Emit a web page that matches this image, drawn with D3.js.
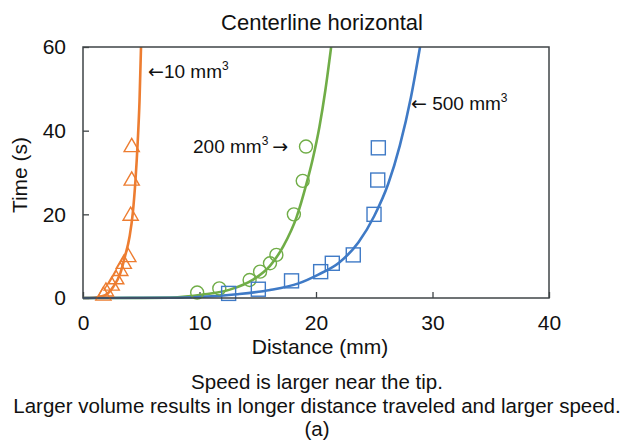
<!DOCTYPE html>
<html>
<head>
<meta charset="utf-8">
<script src="https://cdn.jsdelivr.net/npm/d3@7"></script>
<style>
  body { margin: 0; background: #fff; }
  text { font-family: "Liberation Sans", Arial, sans-serif; fill: #111; }
</style>
</head>
<body>
<div id="chart"></div>
<script>
// ##### data #####
var xTicks = [0, 10, 20, 30, 40];
var yTicks = [0, 20, 40, 60];

// measured points
var orangeX = [1.75, 1.97, 2.46, 2.85, 3.2, 3.5, 3.89, 4.09, 4.18, 4.18];
var orangeY = [0.3, 1.3, 2.7, 4.2, 6.2, 7.9, 9.5, 19.4, 27.8, 35.8];
var greenX = [9.8, 11.7, 14.3, 15.2, 16.05, 16.6, 18.1, 18.86, 19.14];
var greenY = [1.3, 2.3, 4.3, 6.3, 8.3, 10.3, 20.0, 28.0, 36.2];
var blueX = [12.5, 15.05, 17.9, 20.4, 21.4, 23.2, 24.98, 25.3, 25.35];
var blueY = [1.1, 2.1, 4.1, 6.3, 8.3, 10.3, 20.0, 28.2, 35.9];

// fitted trend lines
var orangeFitX = [0, 0.9, 1.9, 2.6, 3.2, 3.6, 4.0, 4.27, 4.5, 4.7, 4.85, 4.98];
var orangeFitY = [0, 0.07, 0.7, 2.7, 5.9, 9.9, 14.7, 20.2, 28.0, 37.5, 47, 60];
var greenFitX = [0, 4, 7.5, 10.3, 12.6, 14.6, 16.05, 17.2, 18.34, 19.2, 19.7, 20.3, 20.8, 21.3];
var greenFitY = [0, 0.02, 0.1, 0.8, 2.0, 4.4, 7.7, 12.4, 19.4, 27.5, 33.0, 41.0, 49.6, 60];
var blueFitX = [0, 7.5, 10.3, 13.2, 16.05, 18.5, 20.2, 22.0, 23.65, 25.0, 26.2, 27.2, 28.15, 28.93];
var blueFitY = [0, 0.05, 0.3, 0.9, 1.9, 3.5, 5.6, 8.5, 13.3, 19.6, 27.3, 36.5, 48, 60];

var orange = "#ED7D31", green = "#70AD47", blue = "#3F7AC6";

function zip(xs, ys) { return xs.map(function(v, i) { return {x: v, y: ys[i]}; }); }

var series = [
	{name: "10",  color: orange, shape: "tri",  pts: zip(orangeX, orangeY), fit: zip(orangeFitX, orangeFitY)},
	{name: "200", color: green,  shape: "circ", pts: zip(greenX, greenY),   fit: zip(greenFitX, greenFitY)},
	{name: "500", color: blue,   shape: "sq",   pts: zip(blueX, blueY),     fit: zip(blueFitX, blueFitY)}
];

// ##### layout #####
var W = 630, H = 441;
var margin = {top: 47, right: 81, bottom: 143, left: 83};
var width = W - margin.left - margin.right;
var height = H - margin.top - margin.bottom;

var svg = d3.select("#chart").append("svg")
	.attr("width", W)
	.attr("height", H);

var g = svg.append("g").attr("transform", "translate(" + margin.left + "," + margin.top + ")");

var x = d3.scaleLinear().domain([0, 40]).range([0, width]);
var y = d3.scaleLinear().domain([0, 60]).range([height, 0]);

g.append("clipPath").attr("id", "clip")
	.append("rect").attr("width", width).attr("height", height + 10).attr("y", 0);

// inward ticks
var xAxis = g.append("g")
	.attr("transform", "translate(0," + height + ")")
	.call(d3.axisBottom(x).tickValues(xTicks).tickSize(-6).tickPadding(13).tickFormat(d3.format("d")));
var yAxis = g.append("g")
	.call(d3.axisLeft(y).tickValues(yTicks).tickSize(-6).tickPadding(17).tickFormat(d3.format("d")));

[xAxis, yAxis].forEach(function(a) {
	a.select(".domain").remove();
	a.selectAll("line").attr("stroke", "#3f4447").attr("stroke-width", 1.3);
	a.selectAll("text").style("font-size", "21px").attr("fill", "#111");
});
xAxis.selectAll("text").attr("dy", "0.9em");

// lines
var line = d3.line()
	.curve(d3.curveMonotoneX)
	.x(function(d) { return x(d.x); })
	.y(function(d) { return y(d.y); });

var lines = g.append("g").attr("clip-path", "url(#clip)");
series.forEach(function(s) {
	lines.append("path")
		.datum(s.fit)
		.attr("fill", "none")
		.attr("stroke", s.color)
		.attr("stroke-width", 2.6)
		.attr("d", line);
});

// markers
series.forEach(function(s) {
	var m = g.append("g").selectAll(".m").data(s.pts).enter();
	if (s.shape === "tri") {
		m.append("path")
			.attr("d", d3.symbol().type(d3.symbolTriangle).size(100))
			.attr("transform", function(d) { return "translate(" + x(d.x) + "," + (y(d.y) - 1) + ")"; })
			.attr("fill", "none").attr("stroke", s.color).attr("stroke-width", 1.4);
	} else if (s.shape === "circ") {
		m.append("circle")
			.attr("cx", function(d) { return x(d.x); })
			.attr("cy", function(d) { return y(d.y); })
			.attr("r", 6.5)
			.attr("fill", "none").attr("stroke", s.color).attr("stroke-width", 1.4);
	} else {
		m.append("rect")
			.attr("x", function(d) { return x(d.x) - 7; })
			.attr("y", function(d) { return y(d.y) - 7; })
			.attr("width", 14).attr("height", 14)
			.attr("fill", "none").attr("stroke", s.color).attr("stroke-width", 1.4);
	}
});

// plot frame
g.append("rect")
	.attr("width", width).attr("height", height)
	.attr("fill", "none")
	.attr("stroke", "#3f4447")
	.attr("stroke-width", 1.5);

// annotations: arrows drawn with DejaVu glyphs, which are larger
function arrow(t, ch) {
	t.append("tspan").style("font-family", "'DejaVu Sans', sans-serif").style("font-size", "19px").text(ch);
}
function label(tx, ty, parts) {
	var t = svg.append("text").attr("x", tx).attr("y", ty).style("font-size", "19px");
	parts.forEach(function(p) {
		if (p === "<") arrow(t, "\u2190");
		else if (p === ">") arrow(t, "\u2192");
		else if (p === "^3") t.append("tspan").attr("dy", -8).style("font-size", "12px").text("3");
		else if (p === "v") t.append("tspan").attr("dy", 8).text("\u2009");
		else t.append("tspan").text(p);
	});
}
label(148, 78, ["<", "10 mm", "^3"]);
label(193, 153, ["200 mm", "^3", "v", ">"]);
label(411, 110, ["<", " 500 mm", "^3"]);

// titles
svg.append("text").attr("x", 322).attr("y", 30).attr("text-anchor", "middle")
	.style("font-size", "22px").text("Centerline horizontal");
svg.append("text").attr("x", 320).attr("y", 354).attr("text-anchor", "middle")
	.style("font-size", "21px").text("Distance (mm)");
svg.append("text").attr("transform", "translate(27,175) rotate(-90)").attr("text-anchor", "middle")
	.style("font-size", "21px").text("Time (s)");

var notes = ["Speed is larger near the tip.",
	"Larger volume results in longer distance traveled and larger speed.",
	"(a)"];
svg.selectAll(".note").data(notes).enter().append("text")
	.attr("x", 317)
	.attr("y", function(d, i) { return 389 + i * 23.5; })
	.attr("text-anchor", "middle")
	.style("font-size", "20.5px")
	.text(function(d) { return d; });
</script>
</body>
</html>
